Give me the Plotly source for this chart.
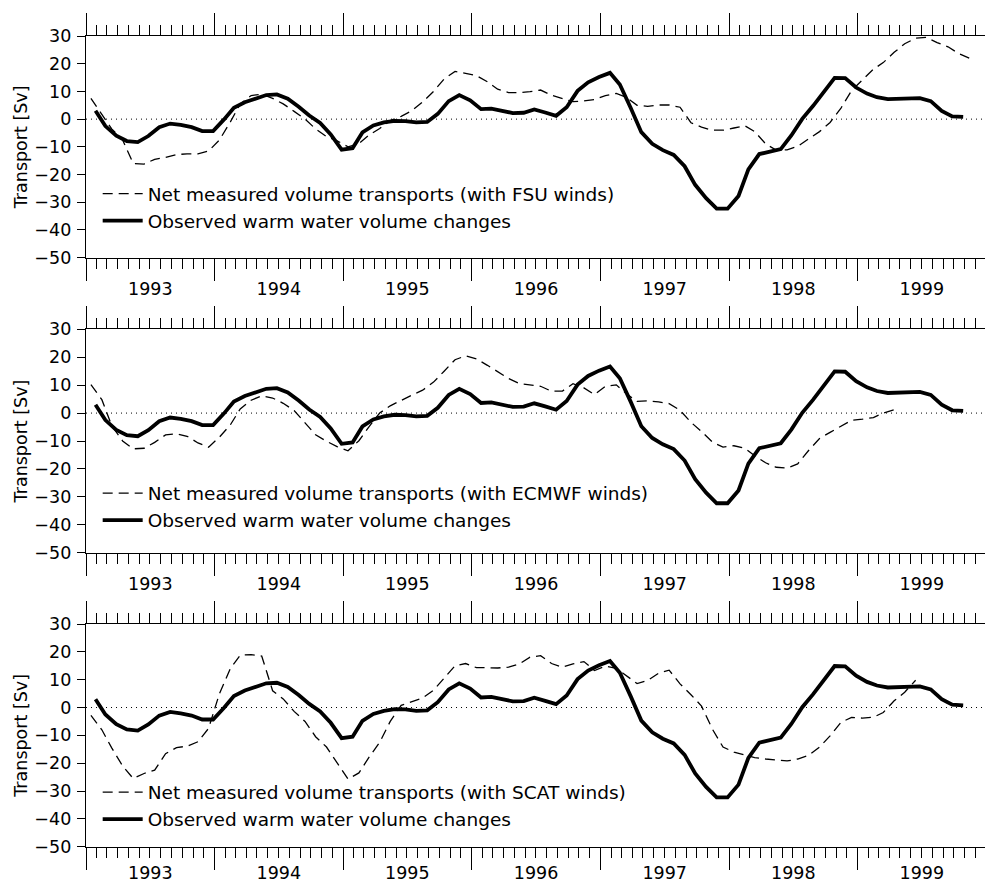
import pandas as pd
import plotly.graph_objects as go

# ---------------- data ----------------
# Observed warm water volume changes [Sv] (same curve in all panels), monthly from late Jan 1993
obs_dates = pd.date_range("1993-02-01", periods=82, freq="MS") - pd.Timedelta(days=4)
obs_values = [
    3.0, -2.5, -6.0, -7.9, -8.3, -6.1, -2.9, -1.6, -2.1, -2.9, -4.3, -4.3,
    -0.1, 4.1, 6.1, 7.4, 8.7, 8.9, 7.4, 4.5, 1.3, -1.4, -5.5, -11.0,
    -10.5, -4.8, -2.3, -1.2, -0.6, -0.7, -1.2, -1.0, 1.9, 6.5, 8.7, 6.8,
    3.6, 3.8, 3.1, 2.2, 2.3, 3.5, 2.4, 1.2, 4.3, 10.2, 13.3, 15.2,
    16.7, 12.5, 4.0, -4.7, -8.9, -11.2, -12.9, -17.0, -23.7, -28.5, -32.3, -32.3,
    -27.7, -18.1, -12.6, -11.7, -10.8, -5.9, 0.1, 4.8, 9.9, 14.9, 14.8, 11.4,
    9.2, 7.9, 7.2, 7.4, 7.7, 7.6, 6.5, 3.0, 1.0, 0.8,
]

# Net measured volume transports [Sv], mid-month values from Jan 1993
net_fsu = [
    7.5, 1.5, -3.5, -7.5, -16.0, -16.2, -14.5, -13.8, -12.8, -12.5, -12.5, -11.5,
    -7.5, -1.0, 5.5, 8.5, 9.0, 7.5, 5.5, 2.8, 0.0, -3.5, -6.3, -7.8,
    -10.0, -8.8, -5.8, -3.4, -0.5, 1.0, 3.0, 6.2, 10.0, 14.5, 17.2, 16.5,
    15.7, 13.5, 10.8, 9.6, 9.6, 9.9, 10.5, 8.6, 7.3, 6.3, 6.6, 7.1,
    8.5, 9.3, 7.9, 5.0, 4.6, 5.1, 5.1, 4.3, -1.3, -2.9, -4.0, -4.0,
    -3.2, -2.4, -4.5, -8.9, -11.2, -11.1, -9.8, -7.0, -4.5, -1.2, 4.0, 10.3,
    14.1, 18.0, 20.4, 24.1, 27.2, 29.2, 29.5, 27.6, 26.1, 23.7, 22.0,
]
net_ecmwf = [
    10.2, 4.8, -4.5, -10.0, -12.8, -12.6, -10.5, -7.8, -7.4, -8.3, -10.7, -12.2,
    -8.6, -4.2, 1.5, 4.6, 6.2, 5.4, 3.5, 0.9, -3.5, -7.8, -10.1, -12.0,
    -13.5, -9.9, -5.0, 0.0, 2.6, 4.6, 6.4, 8.2, 11.1, 15.0, 19.1, 20.5,
    19.4, 17.1, 14.7, 12.4, 10.6, 10.1, 9.6, 7.8, 7.9, 10.5, 9.0, 6.6,
    9.6, 10.1, 7.0, 4.2, 4.4, 4.0, 3.4, 1.0, -3.3, -6.6, -10.4, -12.2,
    -11.7, -12.6, -15.3, -17.8, -19.4, -19.7, -18.2, -13.4, -9.1, -6.9, -4.6, -2.6,
    -2.2, -1.6, 0.0, 1.2,
]
net_scat = [
    -2.8, -8.0, -14.5, -21.0, -25.5, -23.7, -22.5, -16.6, -14.4, -13.9, -12.3, -7.5,
    5.0, 14.0, 18.8, 19.0, 18.5, 6.0, 3.1, -1.4, -5.0, -10.5, -14.2, -20.0,
    -25.7, -23.5, -18.0, -12.5, -5.0, 0.8, 2.2, 3.4, 6.2, 10.5, 15.0, 15.8,
    14.3, 14.3, 14.2, 14.5, 15.6, 18.1, 18.6, 15.8, 14.5, 15.7, 16.5, 13.3,
    14.9, 14.1, 11.5, 8.6, 9.7, 12.3, 13.4, 8.5, 4.6, 0.5, -7.8, -14.2,
    -16.0, -17.1, -18.0, -18.5, -18.9, -19.2, -18.5, -17.2, -14.2, -10.2, -5.3, -3.6,
    -3.8, -3.5, -1.8, 2.4, 5.5, 9.8,
]
net_dates = pd.date_range("1993-01-01", periods=83, freq="MS") + pd.Timedelta(days=14)

wind_products = ["FSU", "ECMWF", "SCAT"]
net_series = [net_fsu, net_ecmwf, net_scat]

y_ticks = [-50, -40, -30, -20, -10, 0, 10, 20, 30]
y_range = [-50, 30]
x_range = ["1993-01-01", "1999-12-29"]
zero_level = 0

# ---------------- styling ----------------
FONT = "DejaVu Sans"
TICK_SIZE = 17.5
LEG_SIZE = 18.5
W, H = 985, 884
panel_px = [(36, 257.7), (329.3, 552.7), (624, 846.7)]   # top/bottom pixel rows of panels
legend_top_px = [175, 474.5, 773.5]
year_label_standoff = [19, 19, 14]

fig = go.Figure()
layout = dict(
    width=W, height=H,
    margin=dict(l=86, r=0, t=0, b=0, autoexpand=False),
    paper_bgcolor="white", plot_bgcolor="white",
    font=dict(family=FONT, size=TICK_SIZE, color="black"),
    showlegend=True,
    shapes=[],
)

for k in range(3):
    n = k + 1
    sfx = "" if n == 1 else str(n)
    xa, ya = f"x{sfx}", f"y{sfx}"
    xlab = f"x{n + 3}"
    leg = f"legend{sfx}"
    top_px, bot_px = panel_px[k]

    # dashed series on the tick axis
    fig.add_trace(go.Scatter(
        x=net_dates[:len(net_series[k])], y=net_series[k], mode="lines",
        name=f"Net measured volume transports (with {wind_products[k]} winds)",
        line=dict(color="black", width=1.3, dash="10px,6px"),
        xaxis=xa, yaxis=ya, legend=leg, hoverinfo="skip",
    ))
    # solid series on the (matching) label axis, drawn on top
    fig.add_trace(go.Scatter(
        x=obs_dates, y=obs_values, mode="lines",
        name="Observed warm water volume changes",
        line=dict(color="black", width=3.8),
        xaxis=xlab, yaxis=ya, legend=leg, hoverinfo="skip",
    ))

    # main axis: year ticks (long) + monthly minor ticks, mirrored to the top
    layout[f"xaxis{sfx}"] = dict(
        type="date", range=x_range, anchor=ya, domain=[0, 1], automargin=False,
        showgrid=False, zeroline=False,
        showline=True, linecolor="black", linewidth=1.4, mirror="ticks",
        ticks="outside", tick0="1993-01-01", dtick="M12", ticklen=22,
        tickwidth=1.4, tickcolor="black", showticklabels=False,
        minor=dict(ticks="outside", dtick="M1", tick0="1993-01-01",
                   ticklen=10, tickwidth=1, tickcolor="black", showgrid=False),
    )
    # overlay axis (same range) carrying the year labels centred in each year
    layout[f"xaxis{n + 3}"] = dict(
        type="date", range=x_range, anchor=ya, overlaying=xa, matches=xa,
        side="bottom", automargin=False, showgrid=False, zeroline=False,
        showline=False, ticks="", tick0="1993-01-01", dtick="M12",
        ticklabelmode="period", tickformat="%Y",
        ticklabelstandoff=year_label_standoff[k],
        tickfont=dict(family=FONT, size=TICK_SIZE, color="black"),
    )
    layout[f"yaxis{sfx}"] = dict(
        range=y_range, anchor=xa, automargin=False,
        domain=[1 - bot_px / H, 1 - top_px / H],
        tickvals=y_ticks, ticks="outside", ticklen=8, tickwidth=1.4,
        tickcolor="black", showline=True, linecolor="black", linewidth=1.4,
        showgrid=False, zeroline=False,
        tickfont=dict(family=FONT, size=TICK_SIZE, color="black"),
        ticklabelstandoff=2,
        title=dict(text="Transport [Sv]", standoff=2,
                   font=dict(family=FONT, size=TICK_SIZE, color="black")),
    )
    layout[leg] = dict(
        x=0.013, y=1 - legend_top_px[k] / H, xanchor="left", yanchor="top",
        bgcolor="rgba(0,0,0,0)", borderwidth=0, itemwidth=40,
        font=dict(family=FONT, size=LEG_SIZE, color="black"),
        traceorder="normal",
    )
    layout["shapes"].append(dict(
        type="line", xref=f"{xa} domain", yref=ya, x0=0, x1=1,
        y0=zero_level, y1=zero_level,
        line=dict(color="black", width=1, dash="1px,4px"), layer="below",
    ))

fig.update_layout(**layout)
fig.write_html("out.html")
